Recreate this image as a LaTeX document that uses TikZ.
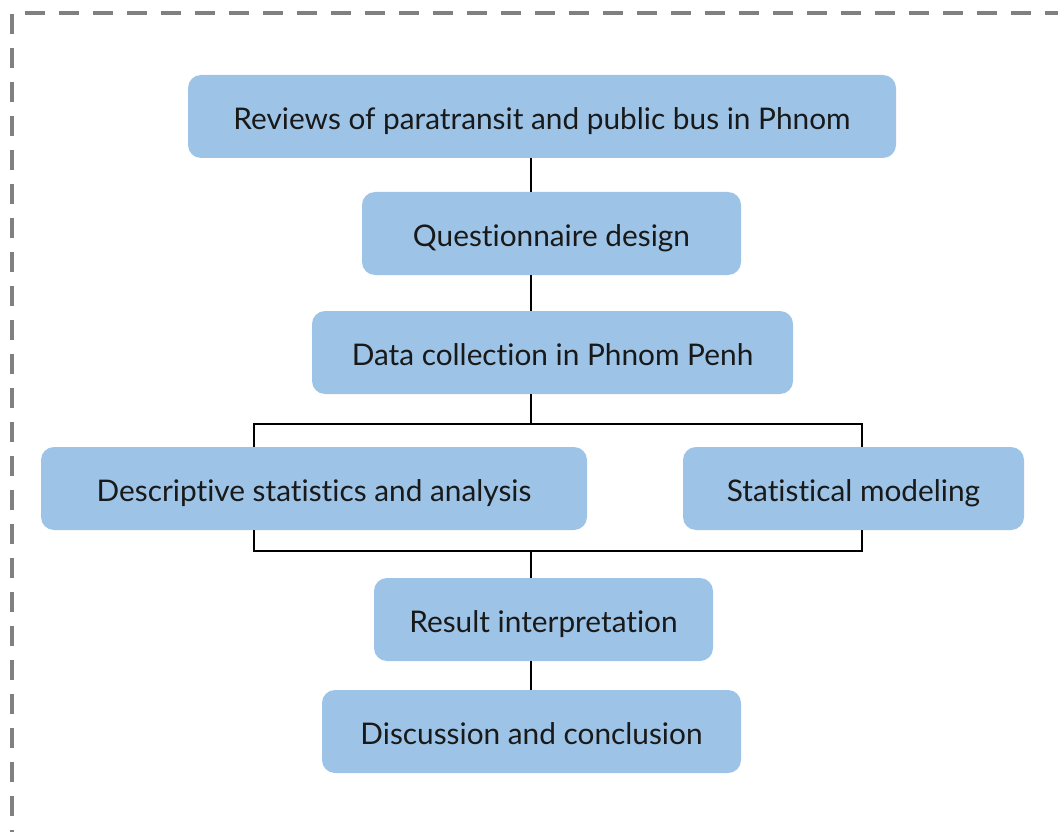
\documentclass[tikz,border=0pt]{standalone}
\usepackage{fontspec}
\setmainfont[Ligatures=NoCommon]{Lato}
\begin{document}
\begin{tikzpicture}[x=1pt,y=-1pt,
  stepbox/.style={draw=none,fill=boxblue,rounded corners=13pt,inner sep=0pt,
    text height=25.4pt,text depth=0pt,
    font=\fontsize{29.8}{34}\selectfont,text=black!90},
  conn/.style={draw=black,line width=2.2pt},
  frame/.style={draw=framegray,line width=4.5pt,dash pattern=on 20pt off 14pt}]
\definecolor{boxblue}{HTML}{9DC3E6}
\definecolor{framegray}{HTML}{808080}
\useasboundingbox (0,0) rectangle (1058,832);
\draw[frame] (12,14) -- (12,840);
\draw[frame] (25,13) -- (1070,13);

\node[stepbox,minimum width=708pt,minimum height=83pt] (rev) at (542,116.5) {Reviews of paratransit and public bus in Phnom};
\node[stepbox,minimum width=379pt,minimum height=83pt] (que) at (551.5,233.5) {Questionnaire design};
\node[stepbox,minimum width=481pt,minimum height=83pt] (dat) at (552.5,352.5) {Data collection in Phnom Penh};
\node[stepbox,minimum width=546pt,minimum height=83pt] (des) at (314,488.5) {Descriptive statistics and analysis};
\node[stepbox,minimum width=341pt,minimum height=83pt] (sta) at (853.5,488.5) {Statistical modeling};
\node[stepbox,minimum width=339pt,minimum height=83pt] (res) at (543.5,619.5) {Result interpretation};
\node[stepbox,minimum width=419pt,minimum height=83pt] (dis) at (531.5,731.5) {Discussion and conclusion};

\coordinate (tl) at (254,424);
\coordinate (tr) at (862,424);
\coordinate (tm) at (531,424);
\coordinate (bl) at (254,551);
\coordinate (br) at (862,551);
\coordinate (bm) at (531,551);

\draw[conn] (rev.south -| tm) -- (que.north -| tm);
\draw[conn] (que.south -| tm) -- (dat.north -| tm);
\draw[conn] (dat.south -| tm) -- (tm);
\draw[conn] (des.north -| tl) -- (tl) -- (tr) -- (sta.north -| tr);
\draw[conn] (des.south -| bl) -- (bl) -- (br) -- (sta.south -| br);
\draw[conn] (bm) -- (res.north -| bm);
\draw[conn] (res.south -| bm) -- (dis.north -| bm);
\end{tikzpicture}
\end{document}
